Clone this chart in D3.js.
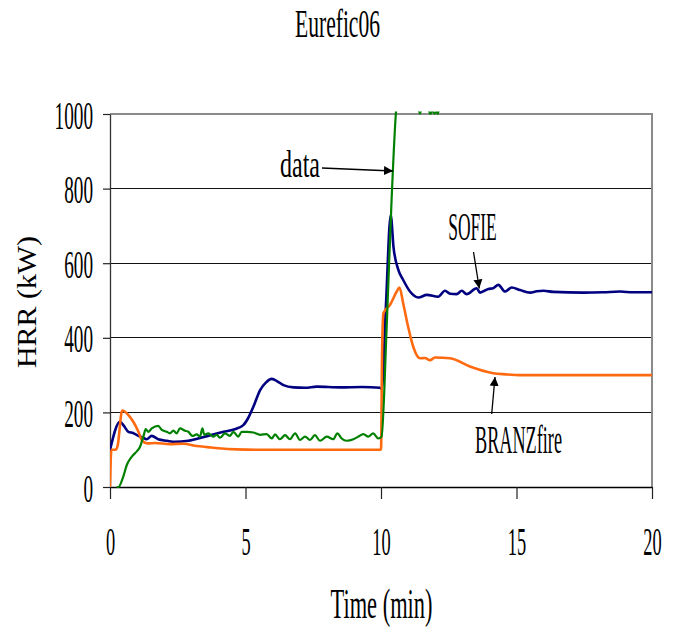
<!DOCTYPE html>
<html>
<head>
<meta charset="utf-8">
<script src="https://cdn.jsdelivr.net/npm/d3@7"></script>
<style>
  html, body { margin: 0; padding: 0; background: #fff; }
  svg { display: block; }
  text { font-family: "Liberation Serif", "DejaVu Serif", serif; fill: #000; }
</style>
</head>
<body>
<svg id="chart" width="682" height="631"></svg>
<script>
// Axis ticks
const xTicks = [0, 5, 10, 15, 20];
const yTicks = [0, 200, 400, 600, 800, 1000];

// SOFIE prediction (time in min, HRR in kW)
const sofieTime = [0, 0.37, 0.5, 0.68, 0.85, 1.05, 1.2, 1.35, 1.54, 1.78, 2.1, 2.4, 2.89, 3.5, 4.12, 4.6, 4.92, 5.1, 5.29, 5.54, 5.75, 5.97, 6.2, 6.4, 6.77, 7.2, 7.63, 8.5, 9.3, 9.96, 10.03, 10.18, 10.36, 10.46, 10.64, 10.82, 11.07, 11.38, 11.69, 12.11, 12.36, 12.55, 12.79, 12.98, 13.16, 13.53, 13.65, 13.96, 14.14, 14.33, 14.58, 14.82, 15.13, 15.5, 15.75, 16.0, 16.36, 17.47, 18.2, 18.82, 19.3, 20];
const sofieHrr  = [99, 175, 165, 148, 145, 137, 133, 128, 137, 128, 124, 121, 124, 135, 147, 155, 166, 185, 215, 260, 280, 290, 282, 273, 267, 266, 269, 267, 268, 266, 263, 483, 729, 644, 582, 555, 524, 508, 515, 510, 526, 518, 517, 526, 517, 533, 521, 531, 533, 542, 524, 535, 528, 521, 525, 526, 523, 521, 522, 524, 522, 522];

// BRANZfire prediction
const branzTime = [0, 0.05, 0.21, 0.28, 0.45, 0.68, 0.86, 1.05, 1.19, 1.38, 1.66, 2.2, 2.7, 3.2, 3.6, 4.0, 4.67, 5.5, 7, 8.5, 10.0, 10.04, 10.09, 10.33, 10.58, 10.68, 10.82, 11.0, 11.19, 11.44, 11.62, 11.81, 11.99, 12.55, 13.28, 14.14, 14.6, 15.13, 17, 20];
const branzHrr  = [0, 100, 100, 110, 205, 193, 175, 148, 124, 117, 118, 115, 116, 110, 107, 104, 101, 100, 100, 100, 100, 360, 466, 488, 524, 535, 492, 430, 376, 345, 346, 340, 347, 345, 323, 305, 302, 300, 300, 300];

// Measured data
const dataTime = [0.25, 0.31, 0.49, 0.62, 0.8, 0.98, 1.11, 1.23, 1.32, 1.41, 1.54, 1.78, 1.91, 2.09, 2.21, 2.34, 2.46, 2.58, 2.77, 2.89, 3.04, 3.2, 3.32, 3.41, 3.48, 3.63, 3.81, 3.94, 4.06, 4.24, 4.43, 4.55, 4.73, 4.86, 5.04, 5.29, 5.54, 5.78, 5.97, 6.09, 6.27, 6.46, 6.64, 6.83, 7.01, 7.2, 7.38, 7.56, 7.75, 8.0, 8.24, 8.39, 8.55, 8.73, 8.98, 9.16, 9.35, 9.53, 9.71, 9.9, 10.02, 10.21, 10.39, 10.55, 10.7, 11.0, 11.3, 11.44, 11.55, 11.7, 11.82, 11.9, 11.97, 12.05, 12.1, 12.2, 12.5];
const dataHrr  = [0, 0, 28, 59, 81, 95, 108, 135, 155, 148, 157, 164, 153, 148, 144, 151, 144, 157, 151, 148, 137, 141, 135, 157, 140, 144, 135, 140, 132, 144, 137, 148, 135, 148, 148, 146, 140, 142, 130, 141, 128, 139, 128, 144, 126, 135, 126, 139, 124, 135, 128, 144, 130, 124, 128, 135, 142, 135, 144, 130, 135, 431, 769, 1002, 1080, 1120, 1040, 1001, 1040, 1030, 1000, 1010, 1001, 1006, 1000, 1050, 1100];

const svg = d3.select("#chart");
const plot = { left: 110, right: 652, top: 114, bottom: 487 };

const x = d3.scaleLinear().domain([0, 20]).range([plot.left, plot.right]);
const y = d3.scaleLinear().domain([0, 1000]).range([plot.bottom, plot.top]);

// Squeeze a text element horizontally so it spans `len` pixels
function condense(sel, px, py, len, extra) {
  sel.each(function () {
    const natural = this.getComputedTextLength();
    const sx = natural > 0 ? len / natural : 1;
    d3.select(this).attr("transform", `translate(${px},${py})${extra || ""} scale(${sx},1)`);
  });
  return sel;
}

// Condensed serif label
function label(g, str, px, py, size, len, anchor, extra) {
  const t = g.append("text")
    .attr("x", 0).attr("y", 0)
    .attr("font-size", size)
    .attr("text-anchor", anchor || "middle")
    .text(str);
  return condense(t, px, py, len, extra);
}

// Horizontal gridlines
svg.append("g").selectAll("line")
  .data(yTicks.filter(v => v > 0 && v < 1000))
  .join("line")
  .attr("x1", plot.left).attr("x2", plot.right)
  .attr("y1", d => y(d)).attr("y2", d => y(d))
  .attr("stroke", "#111").attr("stroke-width", 1).attr("shape-rendering", "crispEdges");

// Top and right frame
svg.append("path")
  .attr("d", `M${plot.left},${y(1000)}H${plot.right}V${plot.bottom}`)
  .attr("fill", "none").attr("stroke", "#8a8a8a").attr("stroke-width", 1.2)
  .attr("shape-rendering", "crispEdges");

// Axes
const yAxis = svg.append("g")
  .attr("transform", `translate(${plot.left},0)`)
  .call(d3.axisLeft(y).tickValues(yTicks).tickSize(7).tickSizeOuter(0).tickFormat(d3.format("d")));
yAxis.select(".domain").attr("stroke", "#333").attr("stroke-width", 1.3);
yAxis.selectAll(".tick line").attr("stroke", "#222").attr("stroke-width", 1.2);
yAxis.selectAll(".tick text")
  .attr("font-family", null)
  .attr("font-size", 41)
  .attr("x", 0).attr("y", 0).attr("dy", 0)
  .each(function (d) { condense(d3.select(this), -17, 14, String(d).length * 9.6); });

const xAxis = svg.append("g")
  .attr("transform", `translate(0,${plot.bottom})`)
  .call(d3.axisBottom(x).tickValues(xTicks).tickSize(12).tickSizeOuter(0).tickFormat(d3.format("d")));
xAxis.select(".domain").attr("stroke", "#000").attr("stroke-width", 1.3);
xAxis.selectAll(".tick line").attr("stroke", "#222").attr("stroke-width", 1.2);
xAxis.selectAll(".tick text")
  .attr("font-family", null)
  .attr("font-size", 41)
  .attr("x", 0).attr("y", 0).attr("dy", 0)
  .each(function (d) { condense(d3.select(this), 0, 68, String(d).length * 9.2); });

// Clip the series to the plot area
svg.append("defs").append("clipPath").attr("id", "plotClip")
  .append("rect")
  .attr("x", plot.left).attr("y", plot.top - 2.5)
  .attr("width", plot.right - plot.left).attr("height", plot.bottom - plot.top + 6);

const line = d3.line().x(d => x(d[0])).y(d => y(d[1])).curve(d3.curveMonotoneX);
const series = [
  { time: sofieTime, hrr: sofieHrr, color: "#000080", width: 2.6 },
  { time: branzTime, hrr: branzHrr, color: "#ff6a10", width: 2.6 },
  { time: dataTime,  hrr: dataHrr,  color: "#008000", width: 2.2 }
];
const lines = svg.append("g").attr("clip-path", "url(#plotClip)");
series.forEach(s => {
  lines.append("path")
    .datum(s.time.map((t, i) => [t, s.hrr[i]]))
    .attr("fill", "none")
    .attr("stroke", s.color)
    .attr("stroke-width", s.width)
    .attr("stroke-linejoin", "round")
    .attr("d", line);
});

// Arrow markers for the annotations
svg.select("defs").append("marker")
  .attr("id", "arrowHead")
  .attr("viewBox", "0 0 10 10")
  .attr("refX", 10).attr("refY", 5)
  .attr("markerWidth", 9).attr("markerHeight", 10)
  .attr("markerUnits", "userSpaceOnUse")
  .attr("orient", "auto")
  .append("path").attr("d", "M0,0L10,5L0,10Z").attr("fill", "#000");

const notes = svg.append("g");
function arrow(x1, y1, x2, y2) {
  notes.append("line")
    .attr("x1", x1).attr("y1", y1).attr("x2", x2).attr("y2", y2)
    .attr("stroke", "#000").attr("stroke-width", 1.3)
    .attr("marker-end", "url(#arrowHead)");
}
label(notes, "data", 300, 177, 37, 40);
arrow(322, 168, 393, 171);
label(notes, "SOFIE", 472.5, 240, 41, 48.5);
arrow(473.5, 252, 479.3, 288.5);
label(notes, "BRANZfire", 518.5, 453, 41, 87);
arrow(491.7, 414, 495, 377);

// Titles
label(svg, "Eurefic06", 337.5, 37, 40, 85);
label(svg, "Time (min)", 381.5, 618, 42, 102);
label(svg, "HRR (kW)", 36, 302, 27, 132, "middle", " rotate(-90)");
</script>
</body>
</html>
